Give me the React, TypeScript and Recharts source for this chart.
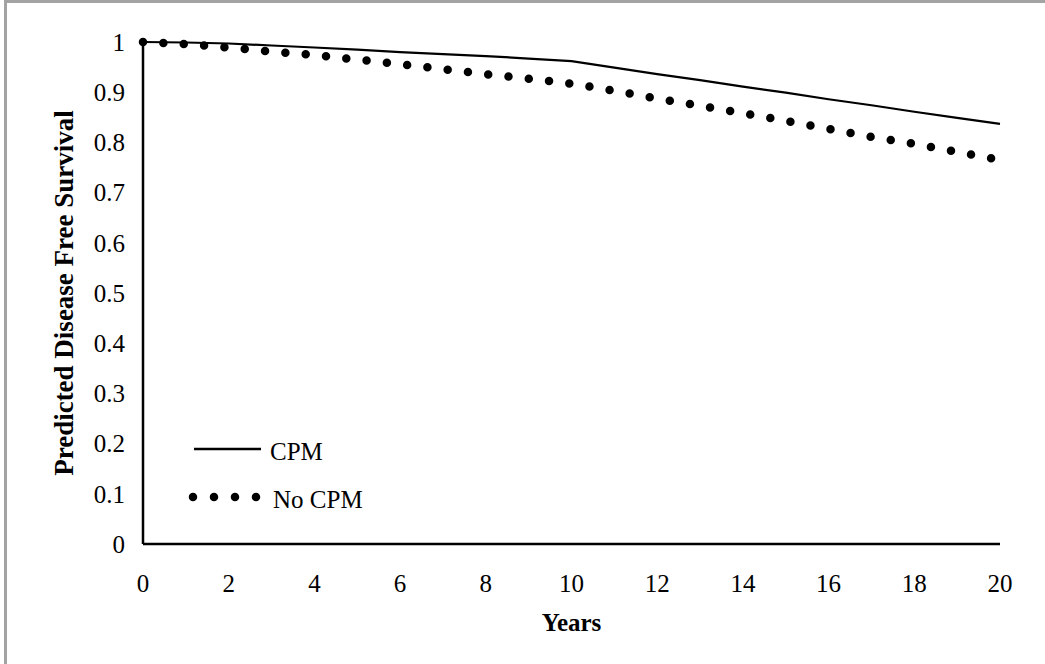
import React from "react";
import { LineChart, Line, XAxis, YAxis } from "recharts";

const years = [0, 1, 2, 3, 4, 5, 6, 7, 8, 9, 10, 11, 12, 13, 14, 15, 16, 17, 18, 19, 20];
const cpm = [1.0, 0.999, 0.997, 0.993, 0.989, 0.985, 0.98, 0.976, 0.972, 0.967, 0.962, 0.949, 0.936, 0.924, 0.911, 0.899, 0.886, 0.874, 0.861, 0.849, 0.837];
const noCpm = [1.0, 0.996, 0.989, 0.981, 0.974, 0.965, 0.956, 0.946, 0.936, 0.927, 0.917, 0.903, 0.887, 0.873, 0.858, 0.843, 0.827, 0.811, 0.797, 0.781, 0.765];
const xTicks = [0, 2, 4, 6, 8, 10, 12, 14, 16, 18, 20];
const yTicks = [0, 0.1, 0.2, 0.3, 0.4, 0.5, 0.6, 0.7, 0.8, 0.9, 1];
const seriesNames = ["CPM", "No CPM"];
const xTitle = "Years";
const yTitle = "Predicted Disease Free Survival";

const data = years.map((y, i) => ({ year: y, cpm: cpm[i], noCpm: noCpm[i] }));

const FONT = "'Liberation Serif', 'Times New Roman', serif";

const fmtY = (v: number) => (v === 0 ? "0" : v === 1 ? "1" : v.toFixed(1));

const LegendBox = () => (
  <svg width={320} height={110} style={{ position: "absolute", left: 180, top: 420, display: "block" }}>
    <line x1={14} y1={29} x2={81} y2={29} stroke="#000" strokeWidth={2.5} />
    <text x={90} y={31} dominantBaseline="central" fontFamily={FONT} fontSize={25} fill="#000">
      {seriesNames[0]}
    </text>
    <line
      x1={13}
      y1={77}
      x2={77}
      y2={77}
      stroke="#000"
      strokeWidth={8.5}
      strokeLinecap="round"
      strokeDasharray="0 21"
    />
    <text x={93} y={79} dominantBaseline="central" fontFamily={FONT} fontSize={25} fill="#000">
      {seriesNames[1]}
    </text>
  </svg>
);

export default function App() {
  return (
    <div style={{ position: "absolute", left: 0, top: 0, width: 1045, height: 664, background: "#fff", overflow: "hidden" }}>
      <div
        style={{
          position: "absolute",
          left: 4,
          top: 0,
          width: 1100,
          height: 700,
          borderLeft: "3px solid #a3a3a3",
          borderTop: "3px solid #a3a3a3",
          boxSizing: "border-box",
        }}
      />
      <div style={{ position: "absolute", left: 0, top: 0 }}>
        <LineChart width={1045} height={664} data={data} margin={{ top: 42, right: 45, bottom: 0, left: 0 }}>
          <XAxis
            dataKey="year"
            type="number"
            domain={[0, 20]}
            ticks={xTicks}
            height={120}
            tickLine={false}
            axisLine={{ stroke: "#000", strokeWidth: 2.5 }}
            tick={{ fill: "#000", fontSize: 25, fontFamily: FONT }}
            tickMargin={24}
            label={(props: any) => {
              const vb = props.viewBox || {};
              return (
                <text
                  x={vb.x + vb.width / 2}
                  y={622}
                  textAnchor="middle"
                  dominantBaseline="central"
                  fontFamily={FONT}
                  fontWeight="bold"
                  fontSize={25}
                  fill="#000"
                >
                  {xTitle}
                </text>
              );
            }}
          />
          <YAxis
            type="number"
            domain={[0, 1]}
            ticks={yTicks}
            width={143}
            tickLine={false}
            axisLine={{ stroke: "#000", strokeWidth: 2.5 }}
            tick={{ fill: "#000", fontSize: 25, fontFamily: FONT }}
            tickFormatter={fmtY}
            tickMargin={12}
            label={(props: any) => {
              const vb = props.viewBox || {};
              const cy = vb.y + vb.height / 2;
              return (
                <text
                  x={64}
                  y={cy}
                  textAnchor="middle"
                  dominantBaseline="central"
                  transform={`rotate(-90, 64, ${cy})`}
                  fontFamily={FONT}
                  fontWeight="bold"
                  fontSize={27}
                  fill="#000"
                >
                  {yTitle}
                </text>
              );
            }}
          />
          <Line
            type="linear"
            dataKey="cpm"
            name={seriesNames[0]}
            stroke="#000"
            strokeWidth={2.2}
            dot={false}
            activeDot={false}
            isAnimationActive={false}
          />
          <Line
            type="linear"
            dataKey="noCpm"
            name={seriesNames[1]}
            stroke="#000"
            strokeWidth={8.5}
            strokeLinecap="round"
            strokeDasharray="0 20.4"
            dot={false}
            activeDot={false}
            isAnimationActive={false}
          />
        </LineChart>
      </div>
      <LegendBox />
    </div>
  );
}
